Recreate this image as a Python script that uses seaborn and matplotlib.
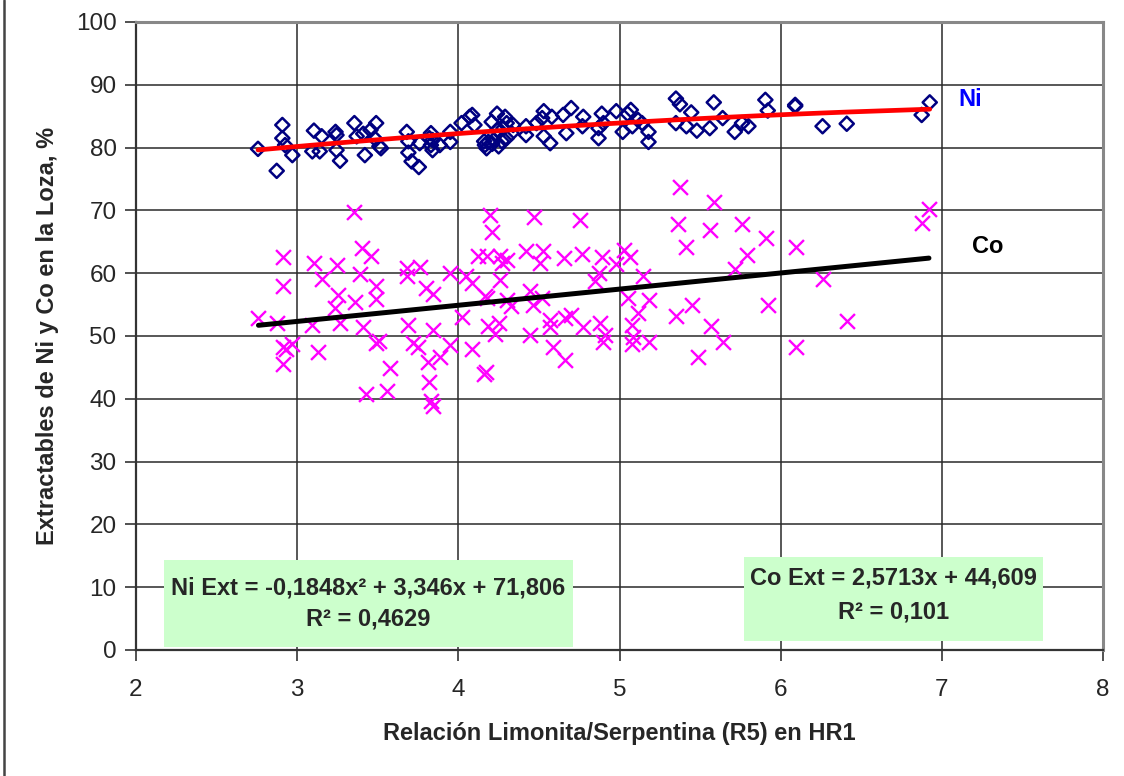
import numpy as np
import pandas as pd
import matplotlib
matplotlib.use("Agg")
import matplotlib.pyplot as plt
from matplotlib.patches import Rectangle
from matplotlib.lines import Line2D
import seaborn as sns

# ---------------- data ----------------
ni_x = [2.757, 2.873, 2.908, 2.908, 2.925, 2.97, 3.104, 3.094, 3.14, 3.152,
        3.238, 3.244, 3.244, 3.266, 3.355, 3.369, 3.42, 3.41, 3.455, 3.49,
        3.48, 3.51, 3.52, 3.68, 3.69, 3.69, 3.71, 3.755, 3.76, 3.83,
        3.82, 3.84, 3.83, 3.84, 3.885, 3.95, 3.95, 4.02, 4.07, 4.086,
        4.10, 4.165, 4.175, 4.186, 4.207, 4.24, 4.24, 4.22, 4.25, 4.29,
        4.30, 4.30, 4.34, 4.28, 4.42, 4.42, 4.485, 4.52, 4.53, 4.53,
        4.57, 4.58, 4.65, 4.67, 4.70, 4.775, 4.77, 4.87, 4.87, 4.89,
        4.90, 4.98, 5.02, 5.05, 5.07, 5.08, 5.115, 5.14, 5.18, 5.18,
        5.35, 5.375, 5.35, 5.415, 5.445, 5.48, 5.56, 5.585, 5.64, 5.715,
        5.76, 5.80, 5.905, 5.92, 6.09, 6.09, 6.26, 6.41, 6.875, 6.925,
        4.16, 4.21, 4.27, 4.33]
ni_y = [79.8, 76.3, 83.6, 81.5, 80.4, 78.8, 82.7, 79.4, 79.4, 81.8,
        82.5, 82.0, 79.6, 77.9, 83.9, 81.8, 78.8, 82.2, 82.8, 83.9,
        81.5, 80.2, 79.9, 82.5, 81.0, 79.2, 77.8, 76.9, 80.7, 82.3,
        81.5, 81.2, 80.4, 79.6, 80.4, 82.5, 80.9, 83.9, 84.9, 85.2,
        83.6, 80.4, 79.9, 80.9, 84.1, 85.4, 82.8, 81.2, 80.2, 84.9,
        83.9, 81.5, 83.6, 83.1, 83.4, 82.0, 83.9, 84.7, 85.8, 81.8,
        80.7, 84.9, 85.2, 82.3, 86.3, 84.9, 83.4, 83.1, 81.5, 85.4,
        83.9, 85.8, 82.5, 85.4, 86.0, 83.4, 84.4, 83.9, 82.5, 80.9,
        87.8, 86.9, 83.9, 83.4, 85.6, 82.7, 83.1, 87.2, 84.7, 82.5,
        83.9, 83.4, 87.6, 85.9, 86.8, 86.6, 83.4, 83.8, 85.2, 87.2,
        81.0, 80.6, 81.0, 82.3]

co_x = [2.76, 2.873, 2.91, 2.91, 2.914, 2.93, 2.966, 2.91, 3.09, 3.104,
        3.13, 3.152, 3.245, 3.255, 3.235, 3.265, 3.36, 3.39, 3.40, 3.456,
        3.41, 3.43, 3.49, 3.49, 3.49, 3.51, 3.555, 3.575, 3.68, 3.68,
        3.76, 3.69, 3.72, 3.75, 3.80, 3.84, 3.84, 3.81, 3.82, 3.83,
        3.84, 3.885, 3.95, 3.95, 4.02, 4.05, 4.086, 4.086, 4.16, 4.17,
        4.12, 4.207, 4.165, 4.176, 4.186, 4.25, 4.23, 4.26, 4.176, 4.30,
        4.27, 4.26, 4.30, 4.325, 4.42, 4.445, 4.465, 4.445, 4.506, 4.527,
        4.517, 4.568, 4.568, 4.59, 4.66, 4.655, 4.66, 4.70, 4.765, 4.775,
        4.85, 4.87, 4.88, 4.90, 4.91, 4.89, 4.98, 3.355, 4.196, 4.47,
        4.755, 5.375, 5.585, 5.36, 5.56, 5.76, 5.906, 6.094, 5.41, 5.79,
        5.715, 6.264, 6.874, 6.92, 5.03, 5.065, 5.147, 5.05, 5.18, 5.115,
        5.075, 5.085, 5.075, 5.18, 5.35, 5.45, 5.57, 5.645, 5.485, 5.92,
        6.094, 6.41]
co_y = [52.8, 52.1, 62.6, 57.9, 48.3, 48.0, 48.7, 45.5, 51.8, 61.7,
        47.4, 59.1, 61.3, 56.5, 54.4, 52.0, 55.4, 59.8, 64.0, 62.7,
        51.5, 40.7, 58.0, 55.9, 48.9, 49.2, 41.3, 44.9, 60.8, 59.5,
        61.0, 51.8, 48.9, 48.3, 57.6, 56.7, 51.0, 45.8, 42.6, 39.6,
        38.9, 46.7, 48.6, 60.1, 53.1, 59.5, 58.5, 48.0, 43.9, 44.3,
        62.7, 66.5, 56.4, 56.0, 51.6, 52.1, 50.3, 62.7, 62.7, 62.1,
        61.6, 58.9, 55.8, 54.8, 63.5, 57.1, 54.9, 50.2, 61.6, 63.6,
        56.0, 52.5, 51.5, 48.3, 46.2, 62.4, 52.8, 53.3, 63.1, 51.5,
        58.8, 60.0, 52.1, 49.0, 50.2, 62.6, 61.5, 69.7, 69.3, 69.0,
        68.4, 73.8, 71.3, 67.8, 66.8, 67.8, 65.6, 64.2, 64.2, 62.9,
        60.7, 59.1, 68.0, 70.3, 63.7, 62.6, 59.5, 56.0, 55.7, 53.7,
        51.8, 49.9, 48.8, 49.0, 53.2, 55.0, 51.6, 49.0, 46.7, 55.0,
        48.3, 52.4]

# trend-line coefficients (as printed on the chart)
ni_coef = [-0.1848, 3.346, 71.806]
co_coef = [2.5713, 44.609]

x_ticks = [2, 3, 4, 5, 6, 7, 8]
y_ticks = [0, 10, 20, 30, 40, 50, 60, 70, 80, 90, 100]

ni_eq = "Ni Ext = -0,1848x² + 3,346x + 71,806"
ni_r2 = "R² = 0,4629"
co_eq = "Co Ext = 2,5713x + 44,609"
co_r2 = "R² = 0,101"
x_title = "Relación Limonita/Serpentina (R5) en HR1"
y_title = "Extractables de Ni y Co en la Loza, %"

# ---------------- plot ----------------
sns.set_theme(style="white")
plt.rcParams['font.family'] = ['Liberation Sans', 'DejaVu Sans']

fig = plt.figure(figsize=(11.24, 7.76), dpi=100)
ax = fig.add_axes([136/1124, 1-650/776, (1103-136)/1124, (650-22)/776])

df_ni = pd.DataFrame({"x": ni_x, "y": ni_y})
df_co = pd.DataFrame({"x": co_x, "y": co_y})

sns.scatterplot(data=df_ni, x="x", y="y", ax=ax, marker="D", s=52,
                facecolors="none", edgecolor="#000080", linewidth=1.8, zorder=3)
sns.scatterplot(data=df_co, x="x", y="y", ax=ax, marker="x", s=115,
                color="#FF00FF", linewidth=1.7, zorder=3)

nx = np.sort(np.array(ni_x))
ny = np.polyval(ni_coef, nx)
sns.lineplot(x=nx, y=ny, ax=ax, color="#FF0000", linewidth=3.4, zorder=4,
             estimator=None, sort=False)
cx = np.array([min(co_x), max(co_x)])
cy = np.polyval(co_coef, cx)
sns.lineplot(x=cx, y=cy, ax=ax, color="black", linewidth=3.6, zorder=4,
             estimator=None, sort=False)

ax.set_xlim(2, 8)
ax.set_ylim(0, 100)
ax.set_xticks(x_ticks)
ax.set_yticks(y_ticks)
ax.set_xticklabels([str(v) for v in x_ticks], fontsize=17.5)
ax.set_yticklabels([str(v) for v in y_ticks], fontsize=17.5)
ax.tick_params(axis="both", direction="out", length=8, width=1.2,
               color="#333333", left=True, bottom=True, pad=6)
ax.tick_params(axis="x", pad=13)
ax.grid(True, color="#2a2a2a", linewidth=1.1)
ax.set_axisbelow(True)
for side in ["left", "bottom"]:
    ax.spines[side].set_color("#333333")
    ax.spines[side].set_linewidth(1.6)
for side in ["top", "right"]:
    ax.spines[side].set_color("#888888")
    ax.spines[side].set_linewidth(2.2)

ax.set_xlabel(x_title, fontsize=17, fontweight="bold", labelpad=15)
ax.set_ylabel(y_title, fontsize=17, fontweight="bold", labelpad=12)

# equation boxes
ax.add_patch(Rectangle((2.174, 0.48), 4.711-2.174, 14.33-0.48,
                       facecolor="#CCFFCC", edgecolor="none", zorder=2))
ax.add_patch(Rectangle((5.77, 1.43), 7.63-5.77, 14.8-1.43,
                       facecolor="#CCFFCC", edgecolor="none", zorder=2))
ax.text(3.442, 9.87, ni_eq, ha="center", va="center", fontsize=17,
        fontweight="bold", zorder=5)
ax.text(3.442, 4.9, ni_r2, ha="center", va="center", fontsize=17,
        fontweight="bold", zorder=5)
ax.text(6.70, 11.5, co_eq, ha="center", va="center", fontsize=17,
        fontweight="bold", zorder=5)
ax.text(6.70, 6.0, co_r2, ha="center", va="center", fontsize=17,
        fontweight="bold", zorder=5)

# series labels
ax.text(7.10, 87.6, "Ni", color="#0000FF", fontsize=17, fontweight="bold",
        ha="left", va="center", zorder=5)
ax.text(7.19, 64.3, "Co", color="black", fontsize=17, fontweight="bold",
        ha="left", va="center", zorder=5)

# outer frame line on the left
fig.add_artist(Line2D([3.5/1124, 3.5/1124], [0, 1], color="#444444",
                      linewidth=1.8, transform=fig.transFigure))

fig.savefig("out.png", dpi=100)
